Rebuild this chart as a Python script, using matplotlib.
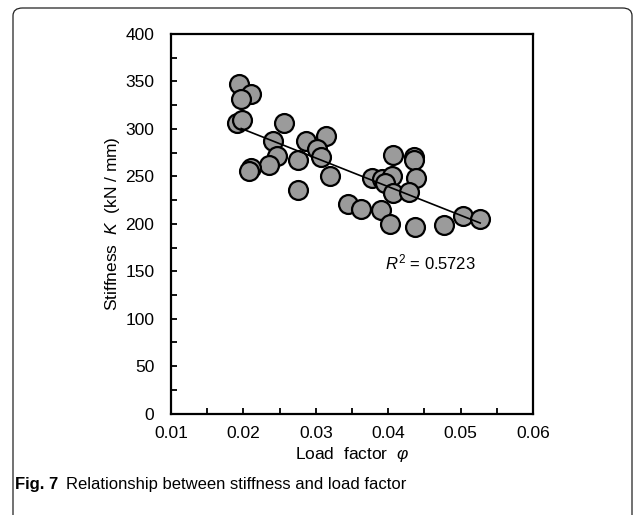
import numpy as np
import matplotlib
matplotlib.use("Agg")
import matplotlib.pyplot as plt
from matplotlib.patches import FancyBboxPatch

plt.rcParams['font.family'] = ['Liberation Sans', 'DejaVu Sans']
plt.rcParams['mathtext.fontset'] = 'custom'
plt.rcParams['mathtext.rm'] = 'Liberation Sans'
plt.rcParams['mathtext.it'] = 'Liberation Sans:italic'

# Datos (factor de carga, rigidez)
load_factor = [0.0194, 0.0210, 0.0196, 0.0191, 0.0198, 0.0256, 0.0241, 0.0247,
               0.0235, 0.0210, 0.0208, 0.0287, 0.0314, 0.0301, 0.0307, 0.0276,
               0.0320, 0.0276, 0.0345, 0.0362, 0.0407, 0.0435, 0.0435, 0.0377,
               0.0392, 0.0405, 0.0395, 0.0439, 0.0407, 0.0429, 0.0390, 0.0403,
               0.0437, 0.0477, 0.0504, 0.0527]
stiffness = [347, 337, 331, 306, 309, 306, 287, 271,
             262, 259, 256, 287, 292, 279, 270, 267,
             250, 236, 221, 216, 272, 270, 267, 248,
             247, 250, 243, 248, 232, 234, 215, 200,
             197, 199, 208, 205]
r2_text = "$R^{\\mathrm{2}}$ = 0.5723"

fig = plt.figure(figsize=(6.34, 5.15), dpi=100)
ax = fig.add_axes([171/634, 1 - 413.6/515, 362/634, 379.6/515])

ax.scatter(load_factor, stiffness, s=185, facecolor="#9b9b9b",
           edgecolor="black", linewidth=1.6, zorder=2)

# Recta de regresion
a, b = np.polyfit(load_factor, stiffness, 1)
xr = np.array([min(load_factor) + 0.0006, max(load_factor)])
ax.plot(xr, a*xr + b, color="black", lw=1.2, zorder=3)

ax.text(0.0395, 152, r2_text, fontsize=12)

ax.set_xlim(0.01, 0.06)
ax.set_ylim(0, 400)
ax.set_xticks(np.arange(0.01, 0.0601, 0.01))
ax.set_xticks(np.arange(0.015, 0.06, 0.01), minor=True)
ax.set_yticks(np.arange(0, 401, 50))
ax.set_yticks(np.arange(25, 400, 50), minor=True)
ax.set_xticklabels(["0.01", "0.02", "0.03", "0.04", "0.05", "0.06"])
ax.tick_params(which="both", direction="in", length=4, width=1.3,
               labelsize=12.5)
ax.tick_params(axis="y", pad=12)
ax.tick_params(axis="x", pad=9)
for s in ax.spines.values():
    s.set_linewidth(1.6)

ax.set_xlabel("Load  factor  $\\varphi$", fontsize=12.5, labelpad=3)
ax.set_ylabel("Stiffness  $K$  (kN / mm)", fontsize=12.5, labelpad=2)

# Marco y leyenda de la figura
marco = FancyBboxPatch((13/634, -0.05), 619/634, 1 - 8/515 + 0.05,
                       boxstyle="round,pad=0,rounding_size=0.015",
                       transform=fig.transFigure, fill=False,
                       edgecolor="#222222", lw=0.9)
fig.patches.append(marco)
fig.text(15/634, 1 - 484/515, "Fig. 7", fontsize=12, fontweight="bold",
         va="center", ha="left")
fig.text(66/634, 1 - 484/515, "Relationship between stiffness and load factor",
         fontsize=12, va="center", ha="left")

fig.savefig("out.png", dpi=100)
